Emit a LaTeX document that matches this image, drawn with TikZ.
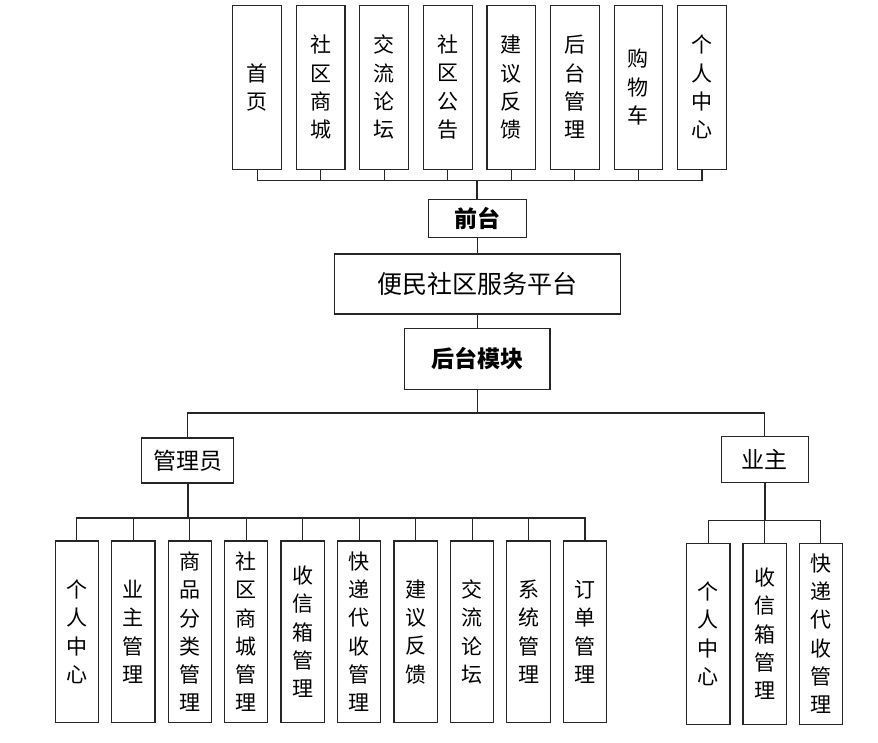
\documentclass[tikz,border=0pt]{standalone}
\usepackage{fontspec}
\newfontfamily\cjk{Noto Sans CJK SC}
\begin{document}
\begin{tikzpicture}[x=1pt,y=-1pt,
  box/.style={draw=black!85,line width=1.1pt,fill=white,inner sep=0pt,align=center},
  vbox/.style={box,font={\cjk\fontsize{21}{28.3}\selectfont}},
  hbox/.style={box,font={\cjk\fontsize{23}{26}\selectfont}},
  bbox/.style={box,font={\cjk\bfseries\fontsize{23}{26}\selectfont}},
  conn/.style={draw=black!85,line width=1.1pt},
  trunk/.style={draw=black!85,line width=1.8pt}]
\useasboundingbox (0,0) rectangle (878,742);
% top row
\foreach \n/\t [count=\i from 0] in {t0/首\\页, t1/社\\区\\商\\城, t2/交\\流\\论\\坛, t3/社\\区\\公\\告, t4/建\\议\\反\\馈, t5/后\\台\\管\\理, t6/购\\物\\车, t7/个\\人\\中\\心}{
  \node[vbox,minimum width=48.7,minimum height=163.7] (\n) at ({257.05+63.57*\i},87.2) {\t};
}
\coordinate (busT) at (0,180.3);
\node[bbox,minimum width=98,minimum height=38.4] (qt) at (477.3,218.5) {前台};
\node[hbox,font={\cjk\fontsize{25}{28}\selectfont},minimum width=286,minimum height=60] (pt) at (477.3,284) {便民社区服务平台};
\node[bbox,minimum width=145.3,minimum height=60.3] (ht) at (477.3,359) {后台模块};
\coordinate (busM) at (0,413);
\node[hbox,minimum width=92,minimum height=45] (gl) at (187.7,460.5) {管理员};
\node[hbox,minimum width=87.3,minimum height=46] (yz) at (764.7,459.7) {业主};
\coordinate (busL) at (0,518);
\coordinate (busR) at (0,520.3);
\foreach \n/\t [count=\i from 0] in {a0/个\\人\\中\\心, a1/业\\主\\管\\理, a2/商\\品\\分\\类\\管\\理, a3/社\\区\\商\\城\\管\\理, a4/收\\信\\箱\\管\\理, a5/快\\递\\代\\收\\管\\理, a6/建\\议\\反\\馈, a7/交\\流\\论\\坛, a8/系\\统\\管\\理, a9/订\\单\\管\\理}{
  \node[vbox,minimum width=43.3,minimum height=181.7] (\n) at ({76.85+56.46*\i},631.8) {\t};
}
\foreach \n/\t [count=\i from 0] in {b0/个\\人\\中\\心, b1/收\\信\\箱\\管\\理, b2/快\\递\\代\\收\\管\\理}{
  \node[vbox,minimum width=43.3,minimum height=181.3] (\n) at ({708.3+56.3*\i},633.7) {\t};
}
% connectors
\foreach \n in {t0,t1,t2,t3,t4,t5,t6,t7}{
  \draw[conn] (\n.south) -- (\n.south |- busT) -| (qt.north);
}
\draw[trunk] (qt.north |- busT) -- (qt.north);
\draw[conn] (qt.south) -- (pt.north);
\draw[conn] (pt.south) -- (ht.north);
\draw[conn] (ht.south) -- (ht.south |- busM) -| (gl.north);
\draw[conn] (ht.south) -- (ht.south |- busM) -| (yz.north);
\foreach \n in {a0,a1,a2,a3,a4,a5,a6,a7,a8,a9}{
  \draw[conn] (gl.south) -- (gl.south |- busL) -| (\n.north);
}
\draw[trunk] (gl.south) -- (gl.south |- busL);
\foreach \n in {b0,b1,b2}{
  \draw[conn] (yz.south) -- (yz.south |- busR) -| (\n.north);
}
\draw[trunk] (yz.south) -- (yz.south |- busR);
\end{tikzpicture}
\end{document}
